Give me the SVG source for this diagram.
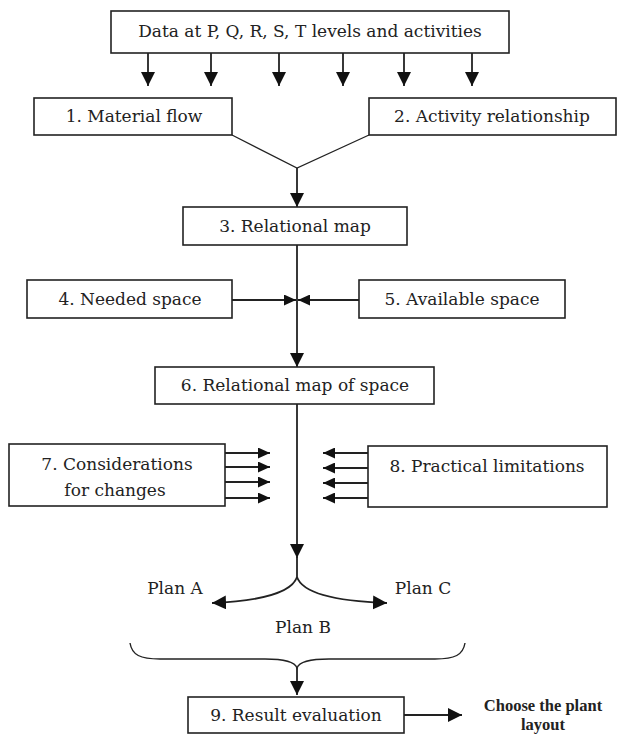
<svg xmlns="http://www.w3.org/2000/svg" width="633" height="736" viewBox="0 0 633 736">
<defs>
<style>
.box{fill:#fff;stroke:#222;stroke-width:1.6}
.t{font-family:"DejaVu Serif","Liberation Serif",serif;font-size:17px;fill:#222;text-anchor:middle}
.tb{font-family:"Liberation Serif","Times New Roman",serif;font-size:16.5px;font-weight:bold;fill:#222;text-anchor:middle}
.ln{fill:none;stroke:#222;stroke-width:1.8}
.ah{fill:#111}
</style>
<marker id="arr" viewBox="0 0 14 14" refX="14" refY="7" markerWidth="14" markerHeight="14" markerUnits="userSpaceOnUse" orient="auto">
<path d="M0,0 L14,7 L0,14 Z" class="ah"/>
</marker>
<marker id="arrs" viewBox="0 0 12 12" refX="12" refY="6" markerWidth="12" markerHeight="11" markerUnits="userSpaceOnUse" orient="auto" preserveAspectRatio="none">
<path d="M0,0 L12,6 L0,12 Z" class="ah"/>
</marker>
</defs>
<rect width="633" height="736" fill="#fff"/>

<g id="connectors">
<line class="ln" x1="148" y1="53" x2="148" y2="86" marker-end="url(#arr)"/>
<line class="ln" x1="211" y1="53" x2="211" y2="86" marker-end="url(#arr)"/>
<line class="ln" x1="279" y1="53" x2="279" y2="86" marker-end="url(#arr)"/>
<line class="ln" x1="343" y1="53" x2="343" y2="86" marker-end="url(#arr)"/>
<line class="ln" x1="404" y1="53" x2="404" y2="86" marker-end="url(#arr)"/>
<line class="ln" x1="472" y1="53" x2="472" y2="86" marker-end="url(#arr)"/>
<polyline class="ln" points="232,135 297,168 369,135" style="stroke-width:1.3"/>
<line class="ln" x1="297" y1="168" x2="297" y2="207" marker-end="url(#arr)"/>
<line class="ln" x1="297" y1="245" x2="297" y2="367" marker-end="url(#arr)"/>
<line class="ln" x1="232" y1="300" x2="296" y2="300" marker-end="url(#arrs)"/>
<line class="ln" x1="359" y1="300" x2="298" y2="300" marker-end="url(#arrs)"/>
<line class="ln" x1="297" y1="404" x2="297" y2="558" marker-end="url(#arr)"/>
<line class="ln" x1="297" y1="556" x2="297" y2="577"/>
<path class="ln" d="M297,577 C292,592 262,601 212,603" marker-end="url(#arr)"/>
<path class="ln" d="M297,577 C302,592 332,601 387,603" marker-end="url(#arr)"/>
<line class="ln" x1="225" y1="453" x2="270" y2="453" marker-end="url(#arrs)"/>
<line class="ln" x1="225" y1="467" x2="270" y2="467" marker-end="url(#arrs)"/>
<line class="ln" x1="225" y1="482" x2="270" y2="482" marker-end="url(#arrs)"/>
<line class="ln" x1="225" y1="498" x2="270" y2="498" marker-end="url(#arrs)"/>
<line class="ln" x1="368" y1="453" x2="323" y2="453" marker-end="url(#arrs)"/>
<line class="ln" x1="368" y1="468" x2="323" y2="468" marker-end="url(#arrs)"/>
<line class="ln" x1="368" y1="483" x2="323" y2="483" marker-end="url(#arrs)"/>
<line class="ln" x1="368" y1="498" x2="323" y2="498" marker-end="url(#arrs)"/>
<path class="ln" style="stroke-width:1.4" d="M130,643 C132,655 140,659 160,659 L265,659 C285,659 295,662 297,668 C299,662 309,659 329,659 L435,659 C455,659 463,655 465,643"/>
<line class="ln" x1="297" y1="668" x2="297" y2="695" marker-end="url(#arr)"/>
<line class="ln" x1="404" y1="715" x2="462" y2="715" marker-end="url(#arr)"/>
</g>

<g id="node-data">
<rect class="box" x="111" y="11" width="398" height="42"/>
<text class="t" x="310" y="37">Data at P, Q, R, S, T levels and activities</text>
</g>
<g id="node-1">
<rect class="box" x="34" y="98" width="198" height="37"/>
<text class="t" x="134" y="122">1. Material flow</text>
</g>
<g id="node-2">
<rect class="box" x="369" y="98" width="247" height="37"/>
<text class="t" x="492" y="122">2. Activity relationship</text>
</g>
<g id="node-3">
<rect class="box" x="183" y="207" width="224" height="38"/>
<text class="t" x="295" y="232">3. Relational map</text>
</g>
<g id="node-4">
<rect class="box" x="27" y="280" width="205" height="38"/>
<text class="t" x="130" y="305">4. Needed space</text>
</g>
<g id="node-5">
<rect class="box" x="359" y="280" width="206" height="38"/>
<text class="t" x="462" y="305">5. Available space</text>
</g>
<g id="node-6">
<rect class="box" x="155" y="367" width="279" height="37"/>
<text class="t" x="295" y="391">6. Relational map of space</text>
</g>
<g id="node-7">
<rect class="box" x="9" y="444" width="216" height="62"/>
<text class="t" x="117" y="470">7. Considerations</text>
<text class="t" x="115" y="496">for changes</text>
</g>
<g id="node-8">
<rect class="box" x="368" y="446" width="239" height="61"/>
<text class="t" x="487" y="472">8. Practical limitations</text>
</g>
<g id="labels">
<text class="t" x="175" y="594">Plan A</text>
<text class="t" x="423" y="594">Plan C</text>
<text class="t" x="303" y="633">Plan B</text>
</g>
<g id="node-9">
<rect class="box" x="188" y="697" width="216" height="36"/>
<text class="t" x="296" y="721">9. Result evaluation</text>
</g>
<g id="node-choose">
<text class="tb" x="543" y="711">Choose the plant</text>
<text class="tb" x="543" y="730">layout</text>
</g>
</svg>
